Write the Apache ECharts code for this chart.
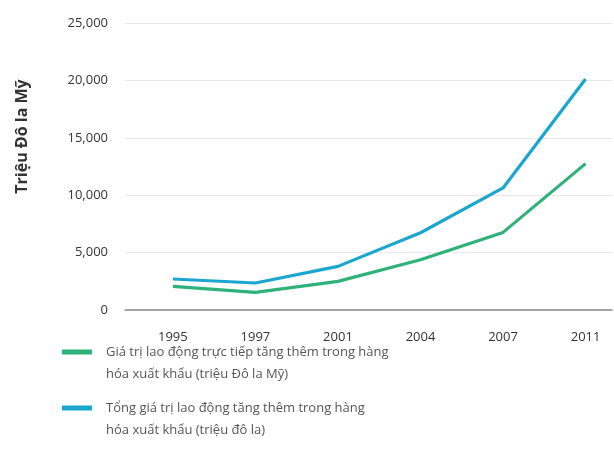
<!DOCTYPE html>
<html>
<head>
<meta charset="utf-8">
<script src="https://cdn.jsdelivr.net/npm/echarts@6/dist/echarts.min.js"></script>
<style>
  html, body { margin: 0; padding: 0; background: #fff; }
  #chart { width: 614px; height: 466px; }
</style>
</head>
<body>
<div id="chart"></div>
<script>
// Years shown along the horizontal axis (evenly spaced, not to time scale)
const years = ['1995', '1997', '2001', '2004', '2007', '2011'];

// Direct labour value added in exports (million USD)
const directLabour = [2060, 1530, 2490, 4380, 6760, 12750];

// Total labour value added in exports (million USD)
const totalLabour = [2700, 2350, 3800, 6730, 10630, 20120];

const yTicks = [0, 5000, 10000, 15000, 20000, 25000];

const nameDirect = 'Giá trị lao động trực tiếp tăng thêm trong hàng hóa xuất khẩu (triệu Đô la Mỹ)';
const nameTotal = 'Tổng giá trị lao động tăng thêm trong hàng hóa xuất khẩu (triệu đô la)';

const FONT = '"Open Sans", "Noto Sans", sans-serif';

// Legend swatch: a short bar sitting level with the first text line of a two-line label
const LEGEND_ICON = 'path://M0,44 M0,0 M0,8.5 L30,8.5 L30,13.5 L0,13.5 Z';

const chart = echarts.init(document.getElementById('chart'));

const toPoints = arr => arr.map((v, i) => [i, v]);

chart.setOption({
  animation: false,
  backgroundColor: '#ffffff',
  textStyle: { fontFamily: FONT },
  grid: { left: 125, right: 2, top: 23, bottom: 156 },
  xAxis: {
    type: 'value',
    min: -0.58,
    max: 5.32,
    axisLine: { show: true, onZero: false, lineStyle: { color: '#8a8a8a', width: 1.5 } },
    axisTick: { show: false },
    splitLine: { show: false },
    axisLabel: {
      customValues: years.map((_, i) => i),
      formatter: v => years[Math.round(v)],
      color: '#333',
      fontSize: 13,
      margin: 21,
      fontFamily: FONT
    }
  },
  yAxis: {
    type: 'value',
    min: yTicks[0],
    max: yTicks[yTicks.length - 1],
    interval: 5000,
    name: 'Triệu Đô la Mỹ',
    nameLocation: 'middle',
    nameGap: 95,
    nameTextStyle: {
      fontSize: 16,
      fontWeight: 'bold',
      color: '#333',
      fontFamily: FONT,
      padding: [0, 0, 0, 60]
    },
    axisLine: { show: false },
    axisTick: { show: false },
    axisLabel: {
      color: '#333',
      fontSize: 13,
      margin: 17,
      fontFamily: FONT,
      formatter: v => v.toLocaleString('en-US')
    },
    splitLine: { lineStyle: { color: '#e8e8e8', width: 1 } }
  },
  legend: {
    orient: 'vertical',
    left: 57,
    top: 336,
    itemWidth: 30,
    itemHeight: 44,
    itemGap: 12,
    icon: LEGEND_ICON,
    data: [nameDirect, nameTotal],
    formatter: name => name.replace(' hóa xuất', '\nhóa xuất'),
    textStyle: {
      color: '#555',
      fontSize: 13,
      lineHeight: 22,
      fontFamily: FONT,
      padding: [0, 0, 0, 9]
    }
  },
  series: [
    {
      name: nameDirect,
      type: 'line',
      data: toPoints(directLabour),
      showSymbol: false,
      symbol: 'none',
      lineStyle: { color: '#2fb27a', width: 3.2 },
      itemStyle: { color: '#2fb27a' }
    },
    {
      name: nameTotal,
      type: 'line',
      data: toPoints(totalLabour),
      showSymbol: false,
      symbol: 'none',
      lineStyle: { color: '#1ba6cf', width: 3.2 },
      itemStyle: { color: '#1ba6cf' }
    }
  ]
});
</script>
</body>
</html>
